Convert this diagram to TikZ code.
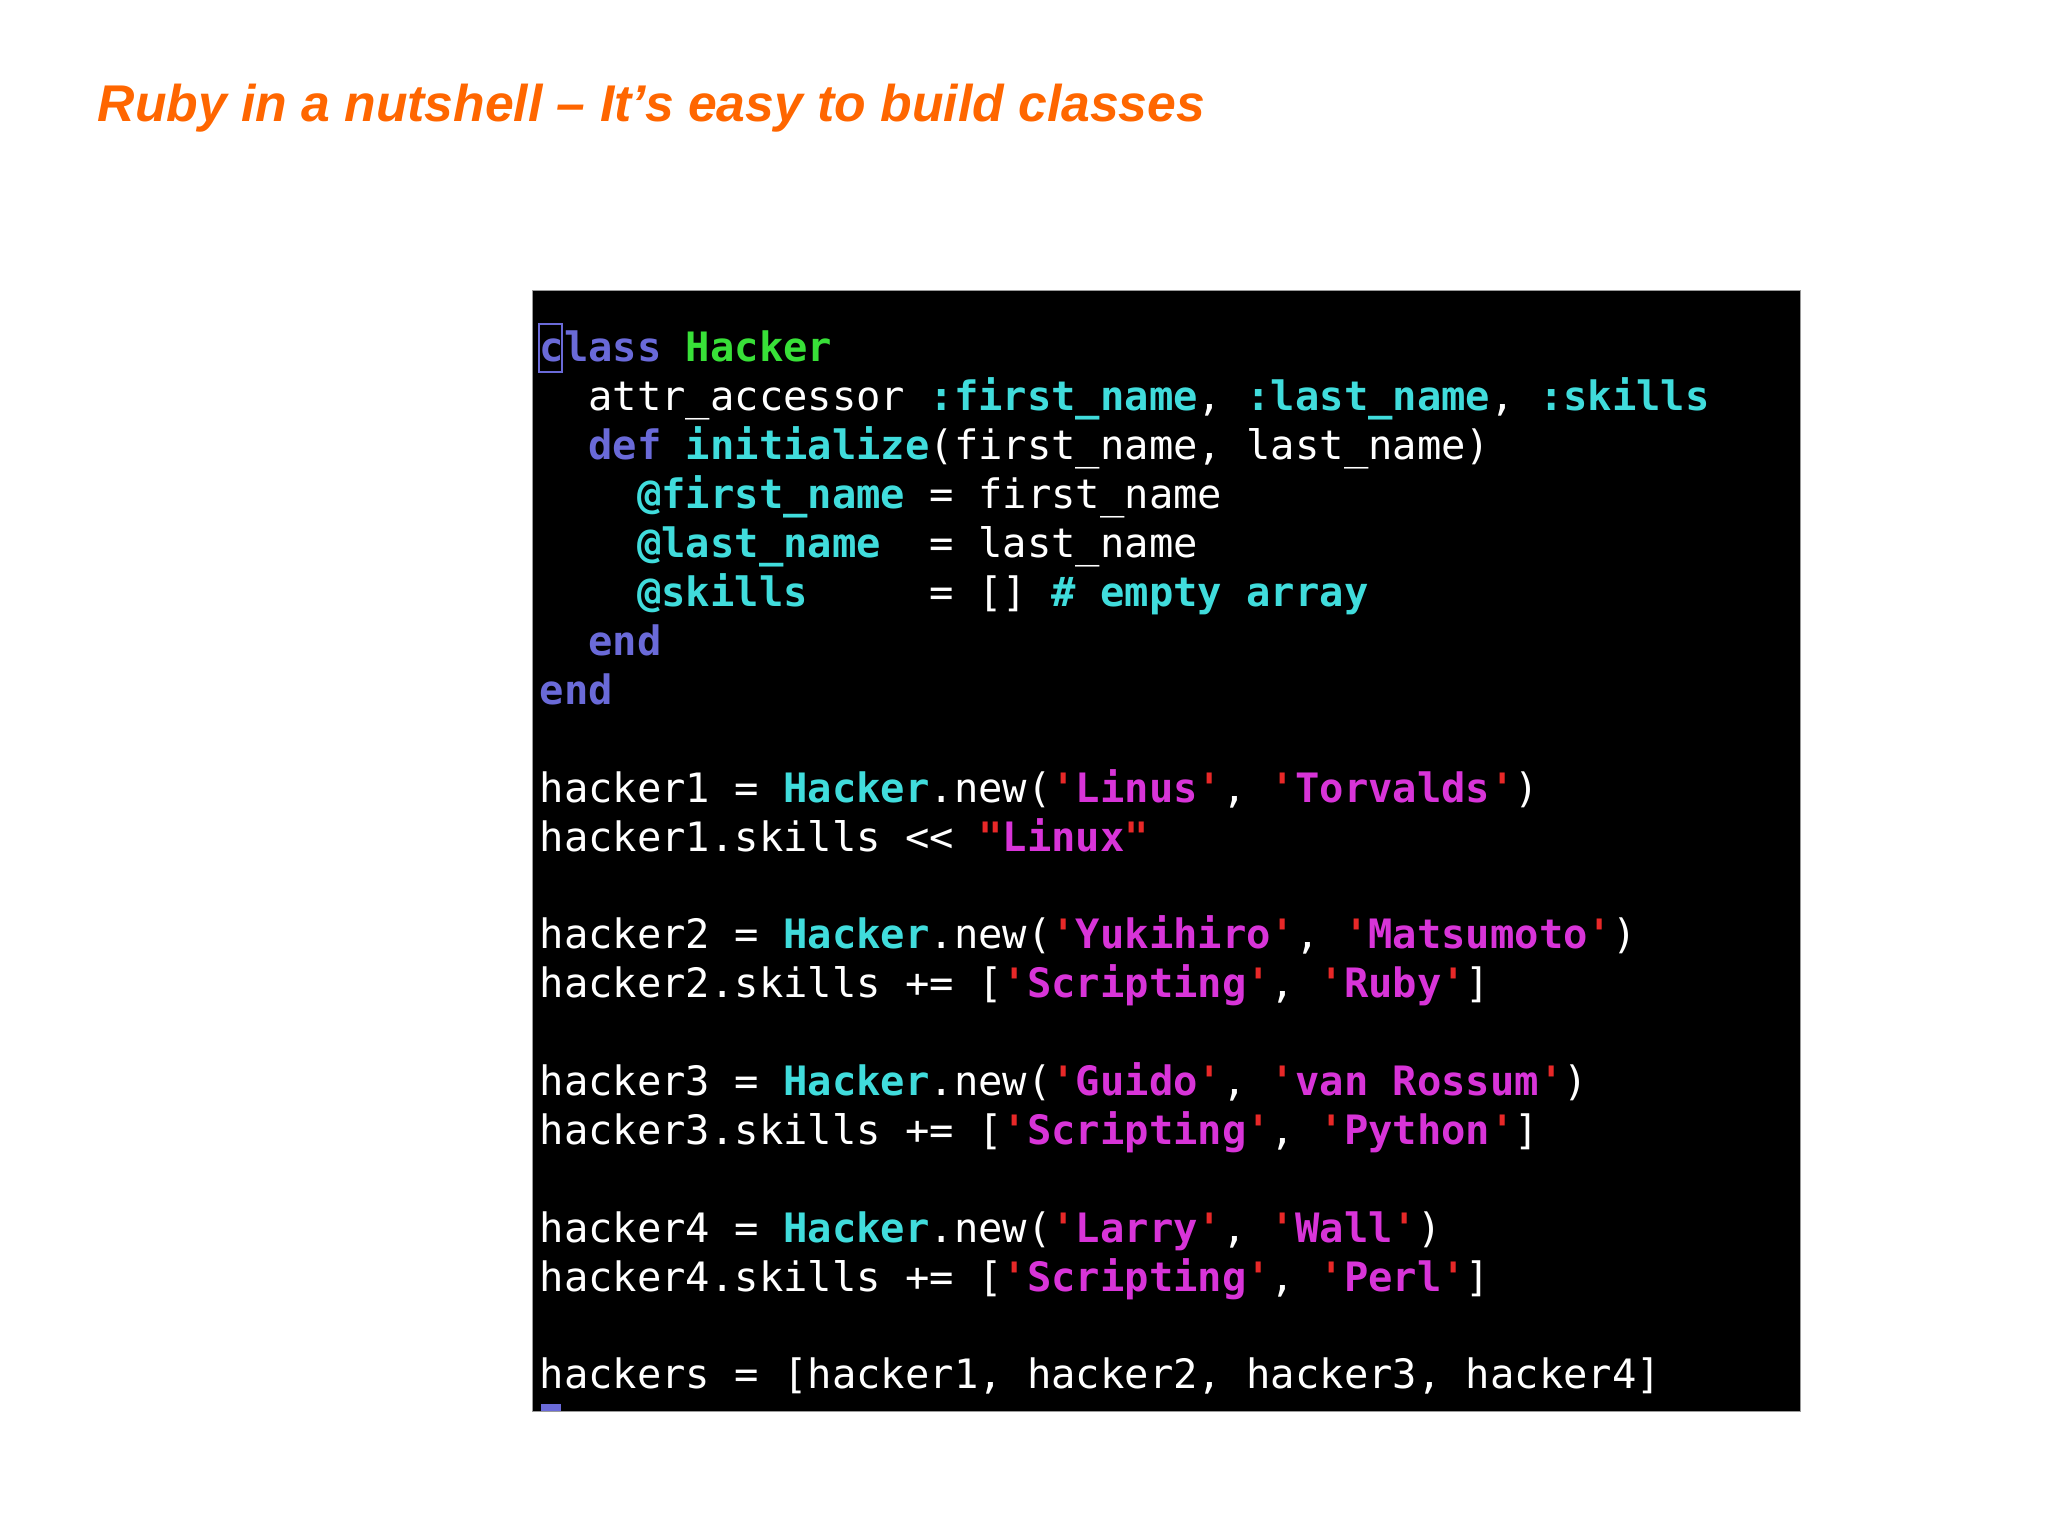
\documentclass[tikz,border=0pt]{standalone}
\usepackage{fontspec}
\setmonofont{DejaVu Sans Mono}
\newfontfamily\titlefont{Liberation Sans}
\usepackage{tikz}

% colours of the terminal
\definecolor{titleorange}{HTML}{FF6600}
\definecolor{kwblue}{HTML}{6A6AD8}
\definecolor{clsgreen}{HTML}{38E038}
\definecolor{symcyan}{HTML}{40DCDC}
\definecolor{strmag}{HTML}{D834D8}
\definecolor{tickred}{HTML}{E82828}
\definecolor{framegray}{HTML}{9A9A9A}

% syntax colouring
\newcommand{\rkw}[1]{\textcolor{kwblue}{\bfseries #1}}
\newcommand{\rcls}[1]{\textcolor{clsgreen}{\bfseries #1}}
\newcommand{\rsym}[1]{\textcolor{symcyan}{\bfseries #1}}
\newcommand{\rtick}{\textcolor{tickred}{\bfseries '}}
\newcommand{\qstr}[1]{\rtick\textcolor{strmag}{\bfseries #1}\rtick}

\tikzset{
  codeline/.style={anchor=base west, inner sep=0pt, text=white,
    font=\ttfamily\fontsize{11.52}{13.9}\selectfont},
  titleline/.style={anchor=base west, inner sep=0pt, text=titleorange,
    font=\titlefont\bfseries\itshape\fontsize{14.7}{17}\selectfont}
}

\begin{document}
\begin{tikzpicture}[x=0.1mm,y=-0.1mm]

% Page
\useasboundingbox[fill=white] (0,0) rectangle (2048,1536);

% Title
\node[titleline] (title) at (97,121) {Ruby in a nutshell \textendash{} It’s easy to build classes};

% Terminal window
\draw[framegray, fill=black, line width=0.2pt] (532,290) rectangle (1800,1411);

% Cursor on the first letter
\draw[kwblue, line width=0.6pt] (539,324) rectangle (562,372);

% Class definition
\node[codeline] (c0) at (539,361) {\rkw{class} \rcls{Hacker}};
\node[codeline] (c1) at (539,410) {~~attr\_accessor \rsym{:first\_name}, \rsym{:last\_name}, \rsym{:skills}};
\node[codeline] (c2) at (539,459) {~~\rkw{def} \rsym{initialize}(first\_name, last\_name)};
\node[codeline] (c3) at (539,508) {~~~~\rsym{@first\_name} = first\_name};
\node[codeline] (c4) at (539,557) {~~~~\rsym{@last\_name}~~= last\_name};
\node[codeline] (c5) at (539,606) {~~~~\rsym{@skills}~~~~~= [] \rsym{\# empty array}};
\node[codeline] (c6) at (539,655) {~~\rkw{end}};
\node[codeline] (c7) at (539,704) {\rkw{end}};

% The hackers
\node[codeline] (h1) at (539,802) {hacker1 = \rsym{Hacker}.new(\qstr{Linus}, \qstr{Torvalds})};
\node[codeline] (s1) at (539,851) {hacker1.skills << \textcolor{tickred}{\bfseries "}\textcolor{strmag}{\bfseries Linux}\textcolor{tickred}{\bfseries "}};
\node[codeline] (h2) at (539,948) {hacker2 = \rsym{Hacker}.new(\qstr{Yukihiro}, \qstr{Matsumoto})};
\node[codeline] (s2) at (539,997) {hacker2.skills += [\qstr{Scripting}, \qstr{Ruby}]};
\node[codeline] (h3) at (539,1095) {hacker3 = \rsym{Hacker}.new(\qstr{Guido}, \qstr{van Rossum})};
\node[codeline] (s3) at (539,1144) {hacker3.skills += [\qstr{Scripting}, \qstr{Python}]};
\node[codeline] (h4) at (539,1242) {hacker4 = \rsym{Hacker}.new(\qstr{Larry}, \qstr{Wall})};
\node[codeline] (s4) at (539,1291) {hacker4.skills += [\qstr{Scripting}, \qstr{Perl}]};
\node[codeline] (all) at (539,1388) {hackers = [hacker1, hacker2, hacker3, hacker4]};

% Cut-off tilde of the next line
\fill[kwblue] (541,1404) rectangle (561,1411);

\end{tikzpicture}
\end{document}
